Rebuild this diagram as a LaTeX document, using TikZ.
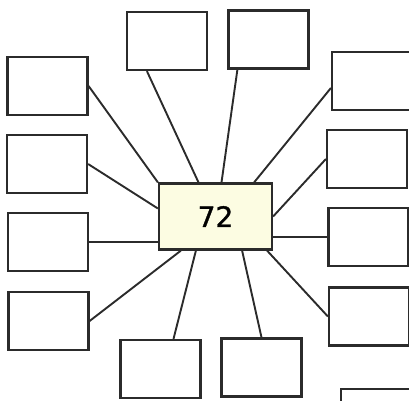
\documentclass[tikz,border=0pt]{standalone}
\usepackage{fontspec}
\setmainfont{DejaVu Sans}
\newfontfamily\numfont[FakeBold=1.2]{DejaVu Sans}
\usepackage{xcolor}
\usepackage{tikz}
\usetikzlibrary{positioning, arrows.meta}
\definecolor{inkgray}{HTML}{2B2B2B}
\definecolor{paleyellow}{HTML}{FCFCE2}

\begin{document}
\begin{tikzpicture}[x=1pt, y=-1pt,
  factorbox/.style={draw=inkgray, line width=2.2pt, minimum width=80pt, minimum height=58pt, inner sep=0pt},
  link/.style={draw=inkgray, line width=1.9pt}]
\useasboundingbox (0,0) rectangle (409,400);
\begin{scope}
\clip (0,0) rectangle (409,400);
\node[factorbox, fill=paleyellow, minimum width=113pt, minimum height=66pt, font=\numfont\fontsize{28}{28}\selectfont] (c) at (215.5,216.5) {72};
\node[factorbox] (l1) at (47.5,86) {};
\node[factorbox] (l2) at (47,164) {};
\node[factorbox] (l3) at (48,242) {};
\node[factorbox] (l4) at (48.5,321) {};
\node[factorbox] (b1) at (160.5,369) {};
\node[factorbox] (b2) at (261.5,367.5) {};
\node[factorbox] (r4) at (369,316.5) {};
\node[factorbox] (r3) at (368.5,237) {};
\node[factorbox] (r2) at (367,159) {};
\node[factorbox] (r1) at (372,81) {};
\node[factorbox] (t2) at (268.5,39.5) {};
\node[factorbox] (t1) at (167,41) {};
\node[factorbox] (p) at (381,418) {};
\end{scope}
\draw[link] (l1.east) -- (c.north west);
\draw[link] (l2.east) -- ([yshift=8pt]c.west);
\draw[link] (l3.east) -- (l3.east -| c.west);
\draw[link] (l4.east) -- ([xshift=23pt]c.south west);
\draw[link] ([xshift=13pt]b1.north) -- ([xshift=38pt]c.south west);
\draw[link] (b2.north) -- ([xshift=-31pt]c.south east);
\draw[link] (r4.west) -- ([xshift=-6pt]c.south east);
\draw[link] (r3.west) -- (r3.west -| c.east);
\draw[link] (r2.west) -- (c.east);
\draw[link] ([yshift=-7pt]r1.west) -- ([xshift=-19pt]c.north east);
\draw[link] ([xshift=10pt]t2.south west) -- ([xshift=6pt]c.north);
\draw[link] ([xshift=21pt]t1.south west) -- ([xshift=-17pt]c.north);
\end{tikzpicture}
\end{document}
